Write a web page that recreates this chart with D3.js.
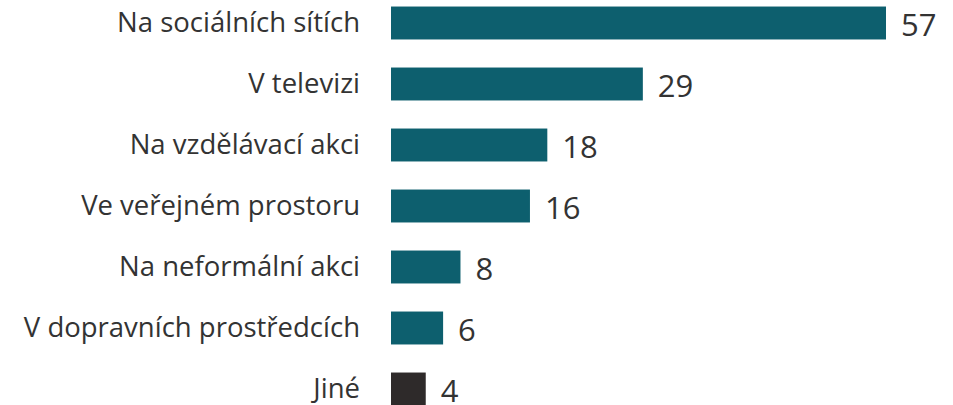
<!DOCTYPE html>
<html><head><meta charset="utf-8">
<script src="https://cdn.jsdelivr.net/npm/d3@7"></script>
<style>body{margin:0;background:#fff}svg{display:block}</style>
</head><body>
<svg id="c" width="953" height="405"></svg>
<script>
const categories = ["Na sociálních sítích","V televizi","Na vzdělávací akci","Ve veřejném prostoru","Na neformální akci","V dopravních prostředcích","Jiné"];
const values = [57,29,18,16,8,6,4];
const colors = ["#0d5f6e","#0d5f6e","#0d5f6e","#0d5f6e","#0d5f6e","#0d5f6e","#2e2a2a"];

const svg = d3.select("#c");
const x = d3.scaleLinear().domain([0,57]).range([391,886]);
const y = d3.scaleBand().domain(categories).range([-7.5,419.5]).paddingInner(0.46).paddingOuter(0.23);
const font = "'Open Sans', 'Noto Sans', sans-serif";

svg.selectAll("rect").data(categories).join("rect")
  .attr("x", x(0)).attr("y", d=>y(d))
  .attr("width", (d,i)=>x(values[i])-x(0)).attr("height", y.bandwidth())
  .attr("fill", (d,i)=>colors[i]);

svg.selectAll("text.cat").data(categories).join("text").attr("class","cat")
  .attr("x", 360).attr("y", d=>y(d)+y.bandwidth()/2+9)
  .attr("text-anchor","end").attr("font-family",font).attr("font-size",27.5)
  .attr("fill","#333").text(d=>d);

svg.selectAll("text.val").data(categories).join("text").attr("class","val")
  .attr("x", (d,i)=>x(values[i])+15).attr("y", d=>y(d)+y.bandwidth()/2+12.5)
  .attr("font-family",font).attr("font-size",31)
  .attr("fill","#333").text((d,i)=>values[i]);
</script>
</body></html>
